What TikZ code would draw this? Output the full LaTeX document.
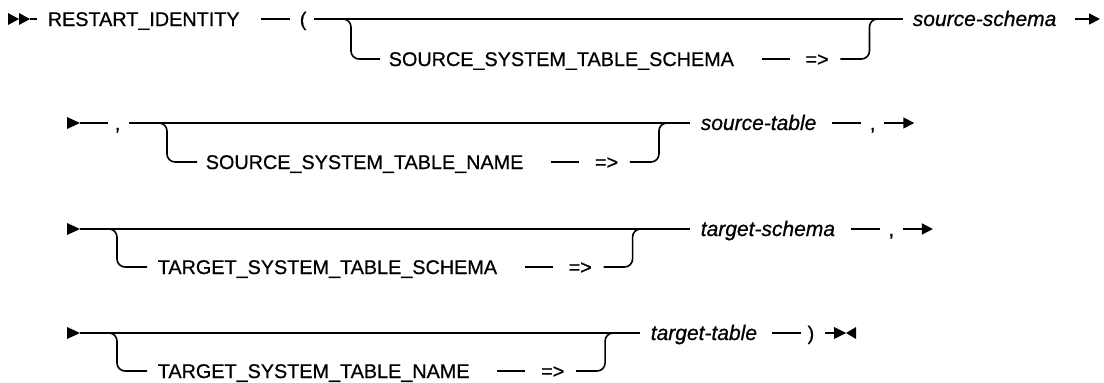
\documentclass[tikz,border=0pt]{standalone}
\usepackage{fontspec}
\setmainfont{Liberation Sans}[FakeBold=0.7]
\usetikzlibrary{arrows.meta,positioning}

\begin{document}
\begin{tikzpicture}[x=1pt,y=-1pt,line width=1.6pt,
  every node/.style={font=\fontsize{19.8}{22}\selectfont},
  tok/.style={inner sep=0pt,text height=14pt,text depth=0pt,anchor=west},
  var/.style={tok,font=\fontsize{21}{24}\selectfont\itshape},
  rail/.style={rounded corners=8pt},
  railtip/.style={-{Triangle[length=11pt,width=11pt]}}]
  \useasboundingbox (0,0) rectangle (1104,383);

  % row 1
  \fill (8,13) -- (19,19) -- (8,25) -- cycle (19,13) -- (30,19) -- (19,25) -- cycle;
  \coordinate (go1) at (30,19);
  \node[tok] (restart) at (47,19) {RESTART\_IDENTITY};
  \node[tok] (lp) at (299,19) {(};
  \node[tok] (ssch) at (388,59) {SOURCE\_SYSTEM\_TABLE\_SCHEMA};
  \node[tok,right=70pt of ssch] (ar1) {=>};
  \node[var] (vss) at (912,19) {source-schema};
  \coordinate (f1) at (351,19);
  \coordinate (j1) at ([xshift=40pt]ar1.east |- f1);
  \coordinate (e1) at (1100,19);
  \draw[shorten >=10pt] (go1) -- (restart.west);
  \draw[shorten <=21pt,shorten >=9pt] (restart.east) -- (lp.west);
  \draw[shorten <=7pt,shorten >=9pt] (lp.east) -- (vss.west);
  \draw[rail] ([xshift=-8pt]f1) -- (f1) |- ([xshift=-8pt]ssch.west);
  \draw[shorten <=27pt,shorten >=15pt] (ssch.east) -- (ar1.west);
  \draw[rail] ([xshift=11pt]ar1.east) -| (j1) -- ([xshift=8pt]j1);
  \draw[railtip,shorten <=18pt] (vss.east) -- (e1);

  % row 2
  \fill (67,117) -- (80,123) -- (67,129) -- cycle;
  \coordinate (go2) at (80,123);
  \node[tok] (c2) at (114,123) {,};
  \node[tok] (ssnm) at (205,162) {SOURCE\_SYSTEM\_TABLE\_NAME};
  \node[tok,right=70pt of ssnm] (ar2) {=>};
  \node[var] (vst) at (700,123) {source-table};
  \node[tok,right=52pt of vst] (c2b) {,};
  \coordinate (f2) at (167,123);
  \coordinate (j2) at ([xshift=40pt]ar2.east |- f2);
  \coordinate (e2) at ([xshift=38pt]c2b.east);
  \draw[shorten >=6pt] (go2) -- (c2.west);
  \draw[shorten <=8pt,shorten >=10pt] (c2.east) -- (vst.west);
  \draw[rail] ([xshift=-8pt]f2) -- (f2) |- ([xshift=-8pt]ssnm.west);
  \draw[shorten <=27pt,shorten >=15pt] (ssnm.east) -- (ar2.west);
  \draw[rail] ([xshift=11pt]ar2.east) -| (j2) -- ([xshift=8pt]j2);
  \draw[shorten <=15pt,shorten >=8pt] (vst.east) -- (c2b.west);
  \draw[railtip,shorten <=8pt] (c2b.east) -- (e2);

  % row 3
  \fill (67,223) -- (80,229) -- (67,235) -- cycle;
  \coordinate (go3) at (80,229);
  \node[tok] (tsch) at (157,267) {TARGET\_SYSTEM\_TABLE\_SCHEMA};
  \node[tok,right=70pt of tsch] (ar3) {=>};
  \node[var] (vts) at (700,229) {target-schema};
  \node[tok,right=52pt of vts] (c3) {,};
  \coordinate (f3) at (117,229);
  \coordinate (j3) at ([xshift=40pt]ar3.east |- f3);
  \coordinate (e3) at ([xshift=38pt]c3.east);
  \draw[shorten >=10pt] (go3) -- (vts.west);
  \draw[rail] ([xshift=-8pt]f3) -- (f3) |- ([xshift=-10pt]tsch.west);
  \draw[shorten <=27pt,shorten >=15pt] (tsch.east) -- (ar3.west);
  \draw[rail] ([xshift=11pt]ar3.east) -| (j3) -- ([xshift=8pt]j3);
  \draw[shorten <=15pt,shorten >=8pt] (vts.east) -- (c3.west);
  \draw[railtip,shorten <=8pt] (c3.east) -- (e3);

  % row 4
  \fill (67,327) -- (80,333) -- (67,339) -- cycle;
  \coordinate (go4) at (80,333);
  \node[tok] (tnm) at (157,371) {TARGET\_SYSTEM\_TABLE\_NAME};
  \node[tok,right=70pt of tnm] (ar4) {=>};
  \node[var] (vtt) at (650,333) {target-table};
  \node[tok,right=49pt of vtt] (rp) {)};
  \coordinate (f4) at (117,333);
  \coordinate (j4) at ([xshift=40pt]ar4.east |- f4);
  \coordinate (e4) at ([xshift=19pt]rp.east);
  \draw[shorten >=10pt] (go4) -- (vtt.west);
  \draw[rail] ([xshift=-8pt]f4) -- (f4) |- ([xshift=-10pt]tnm.west);
  \draw[shorten <=27pt,shorten >=15pt] (tnm.east) -- (ar4.west);
  \draw[rail] ([xshift=11pt]ar4.east) -| (j4) -- ([xshift=8pt]j4);
  \draw[shorten <=14pt,shorten >=6pt] (vtt.east) -- (rp.west);
  \draw[shorten <=10pt] (rp.east) -- (e4);
  \fill ([yshift=6pt]e4) -- ([xshift=12pt]e4) -- ([yshift=-6pt]e4) -- cycle;
  \fill ([xshift=22pt,yshift=6pt]e4) -- ([xshift=12pt]e4) -- ([xshift=22pt,yshift=-6pt]e4) -- cycle;
\end{tikzpicture}
\end{document}
